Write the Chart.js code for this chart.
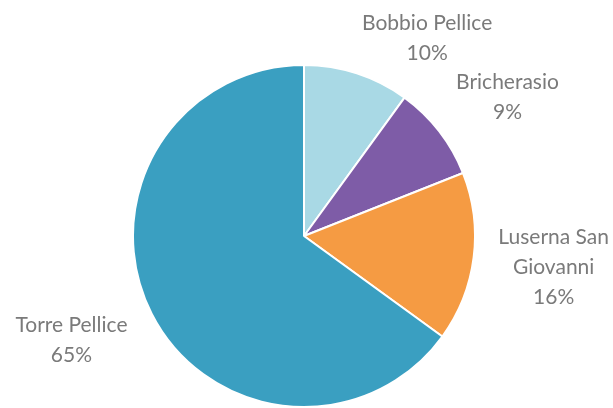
<!DOCTYPE html>
<html>
<head>
<meta charset="utf-8">
<script src="https://cdn.jsdelivr.net/npm/chart.js@4"></script>
<style>
  html, body { margin: 0; padding: 0; background: #fff; overflow: hidden; }
  #wrap { width: 613px; height: 408px; }
</style>
</head>
<body>
<div id="wrap"><canvas id="myChart"></canvas></div>
<script>
// dati
const comuni = ["Bobbio Pellice", "Bricherasio", "Luserna San Giovanni", "Torre Pellice"];
const percentuali = [10, 9, 16, 65];
// righe delle etichette (come nel grafico originale)
const etichette = [
  ["Bobbio Pellice", "10%"],
  ["Bricherasio", "9%"],
  ["Luserna San", "Giovanni", "16%"],
  ["Torre Pellice", "65%"]
];
const colori = ["#a9d9e5", "#7e5ca7", "#f59b43", "#3a9fc1"];

// posizione etichette rispetto al centro, in multipli del raggio
const posEtichette = [
  [0.72, -1.157],
  [1.19, -0.811],
  [1.46, 0.18],
  [-1.36, 0.61]
];

const pluginEtichette = {
  id: "etichette",
  afterDatasetsDraw(chart) {
    const ctx = chart.ctx;
    const meta = chart.getDatasetMeta(0);
    ctx.save();
    ctx.font = "21px Lato";
    ctx.fillStyle = "#7a7a7a";
    ctx.textAlign = "center";
    ctx.textBaseline = "middle";
    const lh = 30;
    meta.data.forEach((arc, i) => {
      const r = arc.outerRadius;
      const cx = arc.x + posEtichette[i][0] * r;
      const cy = arc.y + posEtichette[i][1] * r;
      const righe = etichette[i];
      righe.forEach((t, k) => {
        ctx.fillText(t, cx, cy + (k - (righe.length - 1) / 2) * lh);
      });
    });
    ctx.restore();
  }
};

const ctx = document.getElementById("myChart");
new Chart(ctx, {
  type: "pie",
  data: {
    labels: comuni,
    datasets: [{
      data: percentuali,
      backgroundColor: colori,
      borderColor: "#ffffff",
      borderWidth: 2
    }]
  },
  options: {
    responsive: true,
    maintainAspectRatio: false,
    animation: false,
    layout: { padding: { top: 64, bottom: -4, left: 0, right: 5 } },
    plugins: {
      legend: { display: false },
      tooltip: { enabled: false }
    }
  },
  plugins: [pluginEtichette]
});
</script>
</body>
</html>
